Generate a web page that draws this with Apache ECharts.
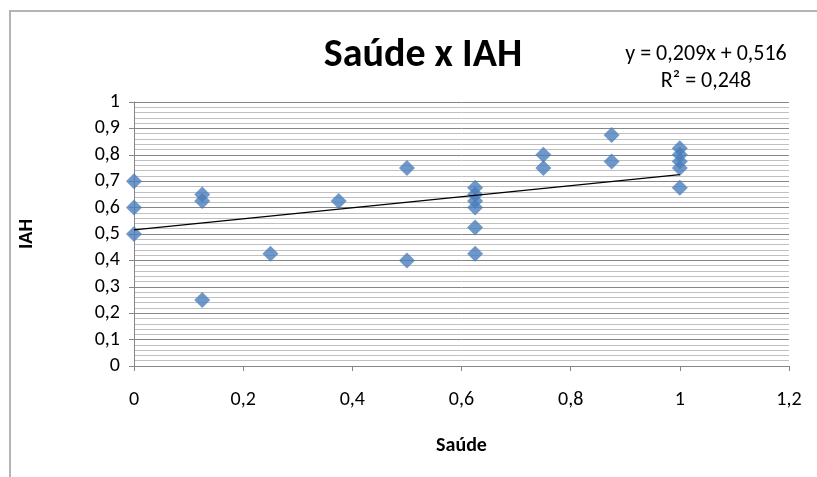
<!DOCTYPE html>
<html>
<head>
<meta charset="utf-8">
<script src="https://cdn.jsdelivr.net/npm/echarts@6/dist/echarts.min.js"></script>
<style>
  html, body { margin: 0; padding: 0; background: #fff; }
  #frame { position: absolute; left: 9px; top: 10px; width: 820px; height: 480px; border: 2px solid #b4b4b4; box-sizing: border-box; }
  #chart { position: absolute; left: 0; top: 0; width: 817px; height: 477px; }
</style>
</head>
<body>
<div id="frame"></div>
<div id="chart"></div>
<script>
// Saúde (x) vs IAH (y) observations
const saude = [0, 0, 0, 0.125, 0.125, 0.125, 0.25, 0.375, 0.5, 0.5,
  0.625, 0.625, 0.625, 0.625, 0.625, 0.625, 0.75, 0.75, 0.875, 0.875,
  1, 1, 1, 1, 1];
const iah = [0.7, 0.6, 0.5, 0.65, 0.625, 0.25, 0.425, 0.625, 0.75, 0.4,
  0.675, 0.65, 0.625, 0.6, 0.525, 0.425, 0.8, 0.75, 0.875, 0.775,
  0.825, 0.8, 0.775, 0.75, 0.675];

// Linear trendline y = a·x + b
const slope = 0.209;
const intercept = 0.516;
const r2 = 0.248;
const trendRange = [0, 1];

const titleText = 'Saúde x IAH';
const xName = 'Saúde';
const yName = 'IAH';

const fmt = v => String(Math.round(v * 1000) / 1000).replace('.', ',');

const points = saude.map((x, i) => [x, iah[i]]);
const trend = trendRange.map(x => [x, slope * x + intercept]);

const font = 'Calibri, Carlito, Lato, "Open Sans", sans-serif';
const chart = echarts.init(document.getElementById('chart'), null, { renderer: 'canvas' });
chart.setOption({
  animation: false,
  backgroundColor: 'transparent',
  title: [{
    text: titleText,
    left: 418, top: 31, textAlign: 'center',
    textStyle: { fontFamily: font, fontSize: 40, fontWeight: 'bold', color: '#000' }
  }, {
    text: 'y = ' + fmt(slope) + 'x + ' + fmt(intercept) + '\nR² = ' + fmt(r2),
    left: 701, top: 36, textAlign: 'center',
    textStyle: { fontFamily: font, fontSize: 22, fontWeight: 'normal', color: '#000', lineHeight: 27, align: 'center' }
  }],
  grid: { left: 134, top: 102, width: 655, height: 264 },
  xAxis: {
    type: 'value', min: 0, max: 1.2, interval: 0.2,
    name: xName, nameLocation: 'middle', nameGap: 70,
    nameTextStyle: { fontFamily: font, fontSize: 20, fontWeight: 'bold', color: '#000' },
    axisLine: { show: true, lineStyle: { color: '#868686', width: 1 } },
    axisTick: { show: true, length: 5, lineStyle: { color: '#868686' } },
    axisLabel: { formatter: fmt, fontFamily: font, fontSize: 20, color: '#000', margin: 24 },
    splitLine: { show: false }
  },
  yAxis: {
    type: 'value', min: 0, max: 1, interval: 0.1,
    name: yName, nameLocation: 'middle', nameGap: 97, nameRotate: 90,
    nameTextStyle: { fontFamily: font, fontSize: 20, fontWeight: 'bold', color: '#000' },
    axisLine: { show: true, lineStyle: { color: '#868686', width: 1 } },
    axisTick: { show: true, inside: false, length: 5, lineStyle: { color: '#868686' } },
    axisLabel: { formatter: fmt, fontFamily: font, fontSize: 20, color: '#000', margin: 14 },
    splitLine: { show: true, lineStyle: { color: '#868686', width: 1 } },
    minorTick: { show: false, splitNumber: 5 },
    minorSplitLine: { show: true, lineStyle: { color: '#c0c0c0', width: 1 } }
  },
  series: [{
    type: 'line',
    data: trend,
    symbol: 'none',
    lineStyle: { color: '#000', width: 1.3 },
    z: 3
  }, {
    type: 'scatter',
    data: points,
    symbol: 'diamond',
    symbolSize: [16, 16],
    itemStyle: { color: '#4a7ebb' },
    z: 2
  }]
});
</script>
</body>
</html>
